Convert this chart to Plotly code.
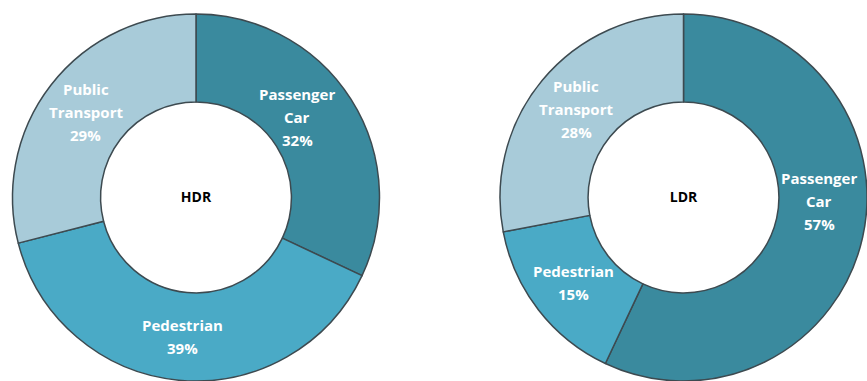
import math
import plotly.graph_objects as go

# Modal split shares (%) for the two density scenarios
modes = ["Passenger Car", "Pedestrian", "Public Transport"]
mode_lines = [["Passenger", "Car"], ["Pedestrian"], ["Public", "Transport"]]
hdr_share = [32, 39, 29]
ldr_share = [57, 15, 28]

mode_colors = ["#3a8a9e", "#4aaac6", "#a8cbd9"]
edge_color = "#3d4a50"

W, H = 867, 381
HOLE = 0.52
LINE_GAP = 23  # px between label lines
LABEL_FONT = dict(family="Open Sans", size=15, color="white", weight="bold")

# Hand-placed label nudges: (angle offset in degrees, radius factor)
label_nudge = {
    ("HDR", "Passenger Car"): (-6, 0.925),
    ("LDR", "Passenger Car"): (-11, 0.975),
}

fig = go.Figure()


def add_donut(values, name, x0, x1, top):
    dom_x = [x0 / W, x1 / W]
    dom_y = [0.0, (H - top) / H]
    fig.add_trace(go.Pie(
        labels=modes,
        values=values,
        textinfo="none",
        hole=HOLE,
        sort=False,
        direction="clockwise",
        rotation=0,
        marker=dict(colors=mode_colors, line=dict(color=edge_color, width=1.5)),
        title=dict(text=name, position="middle center",
                   font=dict(family="Open Sans", size=14, color="black", weight="bold")),
        domain=dict(x=dom_x, y=dom_y),
        showlegend=False,
        hoverinfo="label+percent",
    ))

    # pie geometry in pixels, as plotly lays it out inside the domain
    cx = (x0 + x1) / 2
    cy = top + (H - top) / 2
    radius = min(x1 - x0, H - top) / 2
    ring_mid = radius * (1 + HOLE) / 2

    total = sum(values)
    start = 0.0
    for mode, lines, v in zip(modes, mode_lines, values):
        frac = v / total
        mid = (start + frac / 2) * 360
        start += frac
        d_ang, r_fac = label_nudge.get((name, mode), (0, 1.0))
        ang = math.radians(mid + d_ang)
        r = ring_mid * r_fac
        px = cx + r * math.sin(ang)
        py = cy - r * math.cos(ang)
        text_lines = lines + [f"{v}%"]
        n = len(text_lines)
        for i, t in enumerate(text_lines):
            fig.add_annotation(
                x=px / W, y=1 - py / H, xref="paper", yref="paper",
                text=t, showarrow=False, font=LABEL_FONT,
                xanchor="center", yanchor="middle",
                yshift=((n - 1) / 2 - i) * LINE_GAP,
            )


add_donut(hdr_share, "HDR", 12, 380, 14)
add_donut(ldr_share, "LDR", 500, 867, 14)

fig.update_layout(
    width=W,
    height=H,
    margin=dict(l=0, r=0, t=0, b=0),
    paper_bgcolor="white",
    plot_bgcolor="white",
)

fig.write_html("out.html")
